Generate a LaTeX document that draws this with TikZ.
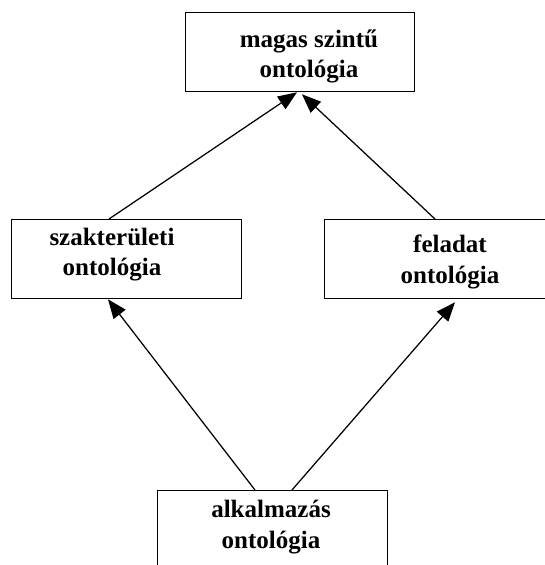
\documentclass[tikz,border=0pt]{standalone}
\usepackage{fontspec}
\setmainfont{Liberation Serif}
\usetikzlibrary{arrows.meta,calc}
\begin{document}
\begin{tikzpicture}[x=1pt,y=-1pt,
  box/.style={draw,line width=1.3pt,rectangle,inner sep=0pt,anchor=north west},
  lbl/.style={font=\fontsize{25}{30}\selectfont\bfseries,anchor=base,inner sep=0pt},
  link/.style={line width=1.25pt,-{Triangle[length=19pt,width=15pt]}}]
\useasboundingbox (0,0) rectangle (544,565);
% boxes
\node[box,minimum width=229pt,minimum height=79pt] (high) at (185,12) {};
\node[box,minimum width=230pt,minimum height=79pt] (domain) at (11,219) {};
\node[box,minimum width=240pt,minimum height=79pt] (task) at (324,219) {};
\node[box,minimum width=230pt,minimum height=90pt] (app) at (157,490) {};
% labels
\node[lbl] (high1) at (309,47) {magas szintű};
\node[lbl] (high2) at (309,77) {ontológia};
\node[lbl] (domain1) at (112,245) {szakterületi};
\node[lbl] (domain2) at (112,275.5) {ontológia};
\node[lbl] (task1) at (450,252.5) {feladat};
\node[lbl] (task2) at (450,283) {ontológia};
\node[lbl] (app1) at (271,517) {alkalmazás};
\node[lbl] (app2) at (271,548) {ontológia};
% connectors
\draw[link] ($(domain.north west)+(98,0)$) -- ($(high.south west)+(112,0)$);
\draw[link] ($(task.north west)+(111,0)$) -- ($(high.south west)+(117,2)$);
\draw[link] ($(app.north west)+(98,0)$) -- ($(domain.south west)+(97,0)$);
\draw[link] ($(app.north west)+(135,0)$) -- ($(task.south west)+(131,3)$);
\end{tikzpicture}
\end{document}
